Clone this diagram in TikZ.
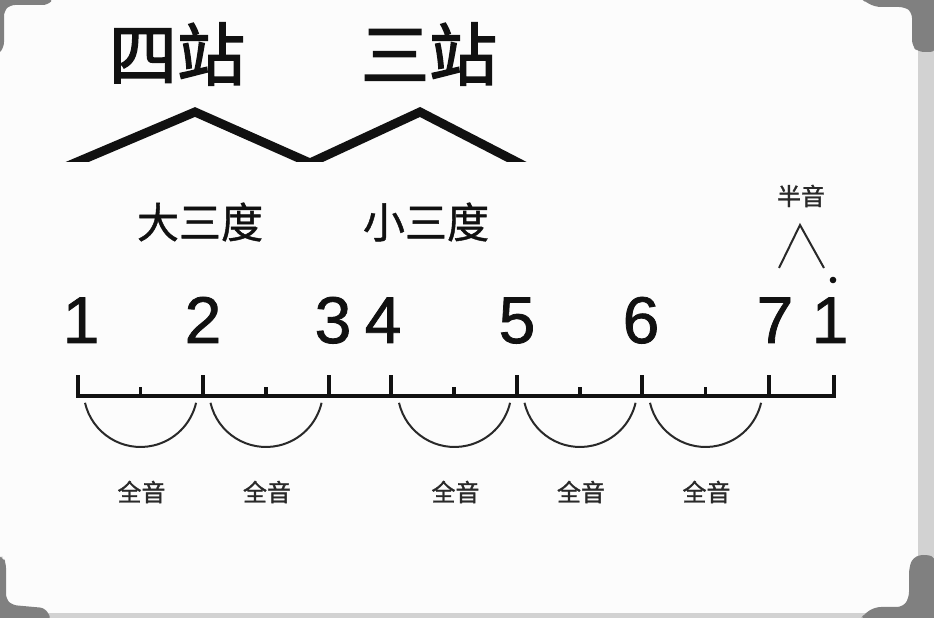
\documentclass[tikz,border=0pt]{standalone}
\usepackage{fontspec}
\setmainfont{Liberation Sans}
\newfontfamily\digitfont{Liberation Sans}[FakeBold=1.2]
\newfontfamily\cjkbold{Noto Sans CJK SC}[FakeBold=2.2]
\newfontfamily\cjkmid{Noto Sans CJK SC}[FakeBold=1]
\newfontfamily\cjksmall{Noto Sans CJK SC}[FakeBold=1.2]
\definecolor{bgwhite}{HTML}{FCFCFC}
\definecolor{framedark}{HTML}{808080}
\definecolor{framelight}{HTML}{D2D2D2}
\definecolor{ink}{HTML}{111111}
\tikzset{
  digit/.style={inner sep=0pt, anchor=base, font=\digitfont\fontsize{66}{66}\selectfont, text=ink},
  bigcjk/.style={inner sep=0pt, font=\cjkbold\fontsize{68}{68}\selectfont, text=ink},
  midcjk/.style={inner sep=0pt, font=\cjkmid\fontsize{42}{42}\selectfont, text=ink},
  smallcjk/.style={inner sep=0pt, font=\cjksmall\fontsize{24}{24}\selectfont, text=ink!90},
  axisline/.style={draw=ink, line width=3.2pt},
  arcline/.style={draw=ink!90, line width=2pt},
  zig/.style={draw=ink, line width=9pt, line join=miter, miter limit=10},
}
\begin{document}
\begin{tikzpicture}[x=1pt,y=1pt]
\useasboundingbox (0,0) rectangle (934,618);
% background card
\fill[bgwhite] (0,0) rectangle (934,618);
% light strips
\fill[framelight] (918,0) rectangle (934,618);
\fill[framelight] (0,0) rectangle (934,5);
% dark corners
\fill[framedark, rounded corners=5pt] (-2,620) -- (54,620) -- (48,613) -- (10,613) -- (4,607) -- (4,571) -- (-2,563) -- cycle;
\fill[framedark, rounded corners=6pt] (860,620) -- (936,620) -- (936,566) -- (918,566) -- (912,572) -- (912,606) -- (905,611) -- (875,611) -- (864,617) -- cycle;
\fill[framedark, rounded corners=6pt] (860,-2) -- (936,-2) -- (936,60) -- (926,64) -- (913,61) -- (909,50) -- (909,20) -- (903,11) -- (875,11) -- (864,4) -- cycle;
\fill[framedark, rounded corners=5pt] (-2,-2) -- (52,-2) -- (45,10) -- (12,13) -- (6,19) -- (6,55) -- (3,61) -- (-2,61) -- cycle;

% top labels
\node[bigcjk] (sizhan) at (177,564) {四站};
\node[bigcjk] (sanzhan) at (429,564) {三站};
% zigzag
\coordinate (zA) at (50,444.5);
\coordinate (zB) at (195,506);
\coordinate (zC) at (310,455);
\coordinate (zD) at (420,506);
\coordinate (zE) at (542,443);
\begin{scope}
  \clip (0,456) rectangle (934,618);
  \draw[zig] (zA) -- (zB) -- (zC) -- (zD) -- (zE);
\end{scope}
\node[midcjk] (dasandu) at (200,396) {大三度};
\node[midcjk] (xiaosandu) at (426,396) {小三度};

% half-step mark
\node[smallcjk] (banyin) at (801,422) {半音};
\coordinate (cL) at (779,350);
\coordinate (cT) at (800,393);
\coordinate (cR) at (824,350);
\draw[arcline, line join=miter] (cL) -- (cT) -- (cR);

% digits
\node[digit] (n1) at (81,275) {1};
\node[digit] (n2) at (203,275) {2};
\node[digit] (n3) at (333,275) {3};
\node[digit] (n4) at (383,275) {4};
\node[digit] (n5) at (517,275) {5};
\node[digit] (n6) at (641,275) {6};
\node[digit] (n7) at (775,275) {7};
\node[digit] (n8) at (830,275) {1};
\fill[ink] (833,338) circle[radius=3.3];

% axis
\coordinate (t1) at (78,222);
\coordinate (t2) at (203,222);
\coordinate (t3) at (329,222);
\coordinate (t4) at (391,222);
\coordinate (t5) at (517,222);
\coordinate (t6) at (642,222);
\coordinate (t7) at (769,222);
\coordinate (t8) at (834,222);
\draw[axisline, line cap=rect] (t1) -- (t8);
\foreach \t in {t1,t2,t3,t4,t5,t6,t7,t8}
  \draw[axisline] (\t) -- ++(0,21);
\foreach \m in {140.5,266,454,580,705.5}
  \draw[axisline] (\m,222) -- ++(0,9);

% whole-step arcs and labels
\foreach \c/\nm in {140.5/a1,266/a2,454.5/a3,580/a4,705.5/a5}{
  \draw[arcline] (\c-55.5,215.2) arc[start angle=193,end angle=347,radius=57pt];
  \node[smallcjk] (\nm) at (\c+1,126) {全音};
}
\end{tikzpicture}
\end{document}
